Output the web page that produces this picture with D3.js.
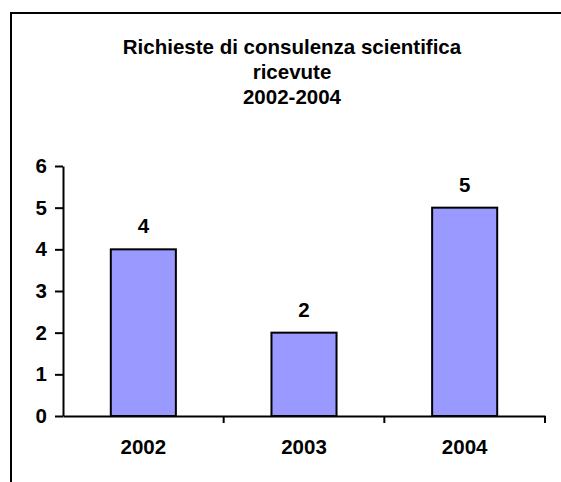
<!DOCTYPE html>
<html>
<head>
<meta charset="utf-8">
<title>Richieste di consulenza scientifica ricevute 2002-2004</title>
<script src="https://cdn.jsdelivr.net/npm/d3@7"></script>
<style>
  html, body { margin: 0; padding: 0; background: #fff; overflow: hidden; }
  svg { display: block; font-family: "Liberation Sans", Arial, sans-serif; }
</style>
</head>
<body>
<div id="chartholder"></div>
<script>
// data
var years = ["2002", "2003", "2004"];
var requests = [4, 2, 5];
var yTicks = [0, 1, 2, 3, 4, 5, 6];
var titleLines = ["Richieste di consulenza scientifica", "ricevute", "2002-2004"];

var width = 561, height = 482;
var fontSize = '20.5px';
var plot = {left: 63, right: 545, top: 166, bottom: 416};

var svg = d3.select('#chartholder').append('svg')
    .attr('width', width)
    .attr('height', height);

// outer chart border (runs off the right and bottom edges)
svg.append('rect')
    .attr('x', 11).attr('y', 13)
    .attr('width', 600).attr('height', 600)
    .attr('fill', 'none')
    .attr('stroke', '#000')
    .attr('stroke-width', 2);

svg.append('g').selectAll('text')
    .data(titleLines)
    .enter().append('text')
        .attr('x', 292)
        .attr('y', function(d, i) { return 54 + i * 25; })
        .attr('text-anchor', 'middle')
        .style('font-size', fontSize)
        .style('font-weight', 'bold')
        .text(function(d) { return d; });

var xScale = d3.scaleBand()
    .domain(years)
    .range([plot.left, plot.right])
    .paddingInner(0.595)
    .paddingOuter(0.2975);

var xGroup = d3.scaleBand()
    .domain(years)
    .range([plot.left, plot.right]);

var yScale = d3.scaleLinear()
    .domain([0, 6])
    .range([plot.bottom, plot.top]);

var data = years.map(function(y, i) { return {year: y, value: requests[i]}; });

svg.append('g').selectAll('rect')
    .data(data)
    .enter().append('rect')
        .attr('x', function(d) { return xScale(d.year); })
        .attr('y', function(d) { return yScale(d.value); })
        .attr('width', xScale.bandwidth())
        .attr('height', function(d) { return yScale(0) - yScale(d.value); })
        .attr('fill', '#9999ff')
        .attr('stroke', '#000')
        .attr('stroke-width', 2);

svg.append('g').selectAll('text')
    .data(data)
    .enter().append('text')
        .attr('x', function(d) { return xScale(d.year) + xScale.bandwidth() / 2; })
        .attr('y', function(d) { return yScale(d.value) - 16; })
        .attr('text-anchor', 'middle')
        .style('font-size', fontSize)
        .style('font-weight', 'bold')
        .text(function(d) { return d.value; });

// y axis
var yAxis = svg.append('g')
    .attr('transform', 'translate(' + plot.left + ',0)')
    .call(d3.axisLeft(yScale).tickValues(yTicks).tickFormat(d3.format('d'))
        .tickSize(8).tickSizeOuter(0).tickPadding(8));

// x axis: ticks at category boundaries
var xAxis = svg.append('g')
    .attr('transform', 'translate(0,' + plot.bottom + ')')
    .call(d3.axisBottom(xGroup).tickSize(0).tickSizeOuter(0));

xAxis.selectAll('.tick text').attr('y', 37.5).attr('dy', 0);

xAxis.selectAll('.bound')
    .data(years)
    .enter().append('line')
        .attr('class', 'bound')
        .attr('x1', function(d) { return xGroup(d) + xGroup.bandwidth(); })
        .attr('x2', function(d) { return xGroup(d) + xGroup.bandwidth(); })
        .attr('y1', 0).attr('y2', 7)
        .attr('stroke', '#000').attr('stroke-width', 2);

[xAxis, yAxis].forEach(function(g) {
    g.selectAll('path, line').attr('stroke', '#000').attr('stroke-width', 2);
    g.selectAll('text')
        .attr('fill', '#000')
        .style('font-family', '"Liberation Sans", Arial, sans-serif')
        .style('font-size', fontSize)
        .style('font-weight', 'bold');
});
</script>
</body>
</html>
